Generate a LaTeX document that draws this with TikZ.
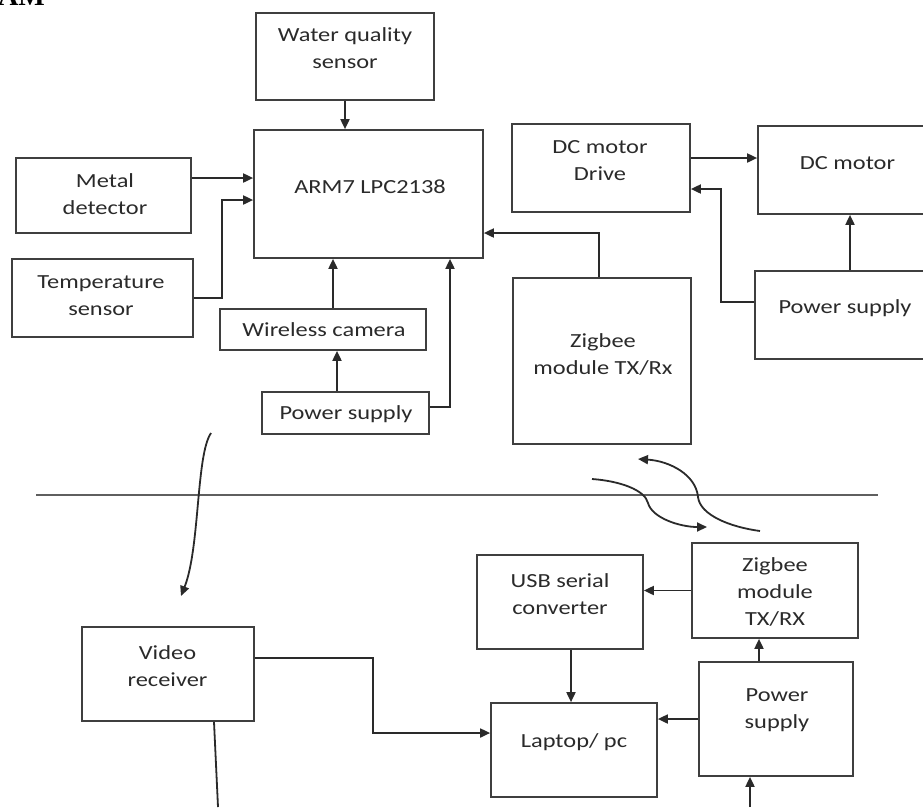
\documentclass[tikz,border=0pt]{standalone}
\usepackage{fontspec}
\usetikzlibrary{arrows.meta}
\newfontfamily\lab[FakeStretch=1.22]{Carlito}
\setmainfont{Liberation Serif}
\definecolor{ink}{HTML}{2A2A2A}
\tikzset{
  box/.style={draw=ink!90, line width=1.7pt, inner sep=0pt, fill=none},
  lab/.style={font=\lab\fontsize{20}{27}\selectfont, text=ink, align=center, inner sep=0pt},
  arr/.style={draw=ink, line width=1.8pt, -{Triangle[length=10pt,width=9pt]}},
  plain/.style={draw=ink, line width=1.8pt},
  sep/.style={draw=ink!75, line width=1.5pt}
}
\begin{document}
\begin{tikzpicture}[x=1pt,y=-1pt]
\useasboundingbox (0,0) rectangle (923,807);
% partial heading at top left
\node[font=\bfseries\fontsize{28}{30}\selectfont, anchor=base east, inner sep=0pt] (head) at (45,5) {DIAGRAM};
% boxes
\node[box, minimum width=178pt, minimum height=87pt] (water) at (345,56.5) {};
\node[box, minimum width=229pt, minimum height=128pt] (arm) at (368.5,194) {};
\node[box, minimum width=175pt, minimum height=75pt] (metal) at (103.5,195.5) {};
\node[box, minimum width=181pt, minimum height=78pt] (temp) at (102.5,298) {};
\node[box, minimum width=206pt, minimum height=41pt] (cam) at (323,329.5) {};
\node[box, minimum width=167pt, minimum height=42pt] (psl) at (345.5,413) {};
\node[box, minimum width=178pt, minimum height=88pt] (drive) at (601,168) {};
\node[box, minimum width=177pt, minimum height=88pt] (motor) at (846.5,170) {};
\node[box, minimum width=180pt, minimum height=88pt] (psr) at (845,315) {};
\node[box, minimum width=178pt, minimum height=166pt] (zigA) at (602,361) {};
\node[box, minimum width=172pt, minimum height=94pt] (video) at (168,674) {};
\node[box, minimum width=166pt, minimum height=94pt] (usb) at (560,602) {};
\node[box, minimum width=166pt, minimum height=95pt] (zigB) at (775,590.5) {};
\node[box, minimum width=166pt, minimum height=94pt] (laptop) at (574,750) {};
\node[box, minimum width=154pt, minimum height=114pt] (psb) at (776,719) {};
% labels
\node[lab] (waterT) at (345,48.5) {Water quality\\sensor};
\node[lab] (armT) at (370,187) {ARM7 LPC2138};
\node[lab] (metalT) at (105,194) {Metal\\detector};
\node[lab] (tempT) at (101,296) {Temperature\\sensor};
\node[lab] (camT) at (324,330) {Wireless camera};
\node[lab] (pslT) at (346,414) {Power supply};
\node[lab] (driveT) at (600,161) {DC motor\\Drive};
\node[lab] (motorT) at (847.5,163) {DC motor};
\node[lab] (psrT) at (845,308) {Power supply};
\node[lab] (zigAT) at (603,354) {Zigbee\\module TX/Rx};
\node[lab] (videoT) at (167.5,666) {Video\\receiver};
\node[lab] (usbT) at (560,594) {USB serial\\converter};
\node[lab] (zigBT) at (775,592) {Zigbee\\module\\TX/RX};
\node[lab] (laptopT) at (574,742) {Laptop/ pc};
\node[lab] (psbT) at (777,710.5) {Power\\supply};
% upper connectors
\draw[arr] (water.south) -- (water.south |- arm.north);
\coordinate (mA) at ([yshift=17.5pt]metal.east);
\draw[arr] (mA) -- (mA -| arm.west);
\coordinate (tB) at (222,200);
\draw[arr] (temp.east) -| (tB) -- (tB -| arm.west);
\coordinate (cA) at ([xshift=10pt]cam.north);
\draw[arr] (cA) -- (cA |- arm.south);
\coordinate (pA) at ([xshift=-8.5pt]psl.north);
\draw[arr] (pA) -- (pA |- cam.south);
\coordinate (pB) at ([yshift=6pt]psl.east);
\coordinate (pC) at (450,0);
\draw[arr] (pB) -| (pC |- arm.south);
\coordinate (zA) at ([xshift=-3pt]zigA.north);
\coordinate (zB) at (0,233);
\draw[arr] (zA) |- (zB -| arm.east);
\coordinate (dA) at ([yshift=10pt]drive.east);
\draw[arr] (dA) -- (dA -| motor.west);
\coordinate (rA) at ([xshift=5pt]psr.north);
\draw[arr] (rA) -- (rA |- motor.south);
\coordinate (rB) at ([yshift=13pt]psr.west);
\coordinate (rC) at (721,189);
\draw[arr] (rB) -| (rC) -- (rC -| drive.east);
% separator and wireless links
\coordinate (sL) at (36,495);
\coordinate (sR) at (878,495);
\draw[sep] (sL) -- (sR);
\coordinate (wA) at (211,433);
\coordinate (wB) at (181,596);
\draw[arr] (wA) .. controls (196,455) and (200,548) .. (wB);
\coordinate (uS) at (760,531);
\coordinate (uM) at (698,497);
\coordinate (uE) at (638,459);
\draw[arr] (uS) .. controls (730,527) and (700,515) .. (uM) .. controls (696,475) and (670,461) .. (uE);
\coordinate (lS) at (592,479);
\coordinate (lM) at (648,503);
\coordinate (lE) at (707,527);
\draw[arr] (lS) .. controls (620,481) and (645,490) .. (lM) .. controls (652,518) and (680,527) .. (lE);
% lower connectors
\draw[arr] (zigB.west) -- (zigB.west -| usb.east);
\coordinate (uA) at ([xshift=11pt]usb.south);
\draw[arr] (uA) -- (uA |- laptop.north);
\coordinate (bA) at ([xshift=-17pt]psb.north);
\draw[arr] (bA) -- (bA |- zigB.south);
\draw[arr] (psb.west) -- (psb.west -| laptop.east);
\coordinate (bB) at (750,807);
\draw[arr] (bB) -- (bB |- psb.south);
\coordinate (vA) at ([yshift=16pt]video.east);
\coordinate (vB) at (373,733);
\draw[arr] (vA) -| (vB) -- (vB -| laptop.west);
\coordinate (vC) at (218,807);
\draw[plain] ([xshift=46pt]video.south) -- (vC);
\end{tikzpicture}
\end{document}
